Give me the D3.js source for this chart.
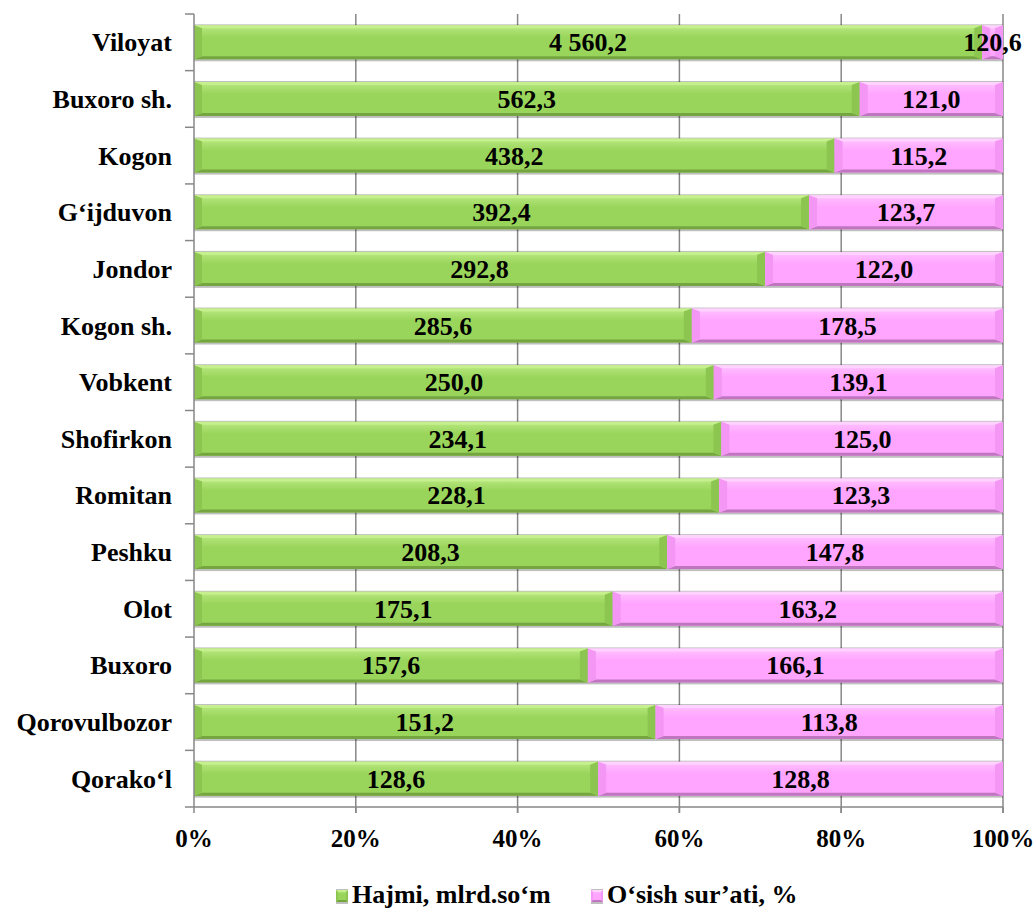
<!DOCTYPE html>
<html><head><meta charset="utf-8">
<script src="https://cdn.jsdelivr.net/npm/d3@7"></script>
<style>body{margin:0;background:#fff}
text{font-family:"Times New Roman",Times,Tinos,"Liberation Serif","Noto Serif","DejaVu Serif",FreeSerif,serif;font-weight:700}</style>
</head><body><svg id="c" width="1036" height="910"></svg>
<script>
const categories = ["Viloyat","Buxoro sh.","Kogon","G‘ijduvon","Jondor","Kogon sh.","Vobkent","Shofirkon","Romitan","Peshku","Olot","Buxoro","Qorovulbozor","Qorako‘l"];
const hajmi = [4560.2,562.3,438.2,392.4,292.8,285.6,250.0,234.1,228.1,208.3,175.1,157.6,151.2,128.6];
const osish = [120.6,121.0,115.2,123.7,122.0,178.5,139.1,125.0,123.3,147.8,163.2,166.1,113.8,128.8];
const seriesNames = ["Hajmi, mlrd.so‘m","O‘sish sur’ati, %"];
const xTicks = [0,0.2,0.4,0.6,0.8,1];

const svg = d3.select("#c");
const L=194,R=1003,T=14,B=807;
const x = d3.scaleLinear().domain([0,1]).range([L,R]);
const y = d3.scaleBand().domain(categories).range([T,B]).paddingInner(0.4).paddingOuter(0.2);
const fmt = v => d3.format(",.1f")(v).replace(/,/g," ").replace(".",",");

const pal = [
 {main:"#9ad55b",top:"#c6ef8e",bot:"#74a541",side:"#8cc650",light:"#b9e982"},
 {main:"#ffa5ff",top:"#ffd2ff",bot:"#bf76bf",side:"#f496f4",light:"#ffc3ff"}
];
const defs = svg.append("defs");
pal.forEach((p,i)=>{
  const g = defs.append("linearGradient").attr("id","g"+i).attr("x1",0).attr("x2",0).attr("y1",0).attr("y2",1);
  g.append("stop").attr("offset","0").attr("stop-color",p.light);
  g.append("stop").attr("offset","0.35").attr("stop-color",p.main);
  g.append("stop").attr("offset","1").attr("stop-color",p.main);
});

svg.append("g").selectAll("line").data(xTicks.slice(1)).join("line")
  .attr("x1",d=>x(d)).attr("x2",d=>x(d)).attr("y1",T).attr("y2",B+6)
  .attr("stroke","#878787").attr("stroke-width",1.5);

const rows = categories.map((c,i)=>{const tot=hajmi[i]+osish[i];return {c, segs:[
  {s:0,x0:0,x1:hajmi[i]/tot,v:hajmi[i]},{s:1,x0:hajmi[i]/tot,x1:1,v:osish[i]}]};});
function bevelBar(g,x0,y0,w,h,p,s,stw,tt){
  const st=Math.min(stw,w/2), t=tt;
  g.append("rect").attr("x",x0).attr("y",y0-1).attr("width",w).attr("height",h+3).attr("fill","rgba(0,0,0,0.25)");
  g.append("rect").attr("x",x0).attr("y",y0).attr("width",w).attr("height",h).attr("fill","url(#g"+s+")");
  const P=(pts,f)=>g.append("polygon").attr("points",pts.map(q=>q.join(",")).join(" ")).attr("fill",f);
  P([[x0,y0],[x0+w,y0],[x0+w-st,y0+t],[x0+st,y0+t]],p.top);
  P([[x0,y0+h],[x0+w,y0+h],[x0+w-st,y0+h-t],[x0+st,y0+h-t]],p.bot);
  P([[x0,y0],[x0+st,y0+t],[x0+st,y0+h-t],[x0,y0+h]],p.side);
  P([[x0+w,y0],[x0+w-st,y0+t],[x0+w-st,y0+h-t],[x0+w,y0+h]],p.side);
}
const bars = svg.append("g");
rows.forEach(r=>{
  r.segs.forEach(sg=>{
    bevelBar(bars, x(sg.x0), y(r.c), x(sg.x1)-x(sg.x0), y.bandwidth(), pal[sg.s], sg.s, 8, 3);
  });
});
const lab = svg.append("g").attr("font-size",26);
rows.forEach(r=>{
  r.segs.forEach(sg=>{
    lab.append("text").attr("x",(x(sg.x0)+x(sg.x1))/2).attr("y",y(r.c)+y.bandwidth()/2+9)
      .attr("text-anchor","middle").text(fmt(sg.v));
  });
});

const ax = svg.append("g");
ax.append("line").attr("x1",L).attr("x2",L).attr("y1",T).attr("y2",B).attr("stroke","#878787").attr("stroke-width",1.5);
ax.append("line").attr("x1",L).attr("x2",R).attr("y1",B).attr("y2",B).attr("stroke","#878787").attr("stroke-width",1.5);
const bounds = categories.map(c=>y(c)-y.step()*y.paddingInner()/2).concat([B]);
ax.selectAll(".yt").data(bounds).join("line").attr("x1",L-9).attr("x2",L).attr("y1",d=>d).attr("y2",d=>d).attr("stroke","#878787").attr("stroke-width",1.5);
ax.selectAll(".xt").data(xTicks).join("line").attr("x1",d=>x(d)).attr("x2",d=>x(d)).attr("y1",B).attr("y2",B+6).attr("stroke","#878787").attr("stroke-width",1.5);
ax.selectAll(".xl").data(xTicks).join("text").attr("x",d=>x(d)).attr("y",847).attr("text-anchor","middle").attr("font-size",25)
  .text(d=>d3.format(".0%")(d));
ax.selectAll(".yl").data(categories).join("text").attr("x",172).attr("y",d=>y(d)+y.bandwidth()/2+9).attr("text-anchor","end").attr("font-size",26)
  .text(d=>d);

const leg = svg.append("g");
const lx=[336,591];
seriesNames.forEach((n,i)=>{
  const g=leg.append("g");
  bevelBar(g,lx[i],890,12,12,pal[i],i,2,2);
  g.append("text").attr("x",lx[i]+16).attr("y",903).attr("font-size",26).text(n);
});
</script></body></html>
